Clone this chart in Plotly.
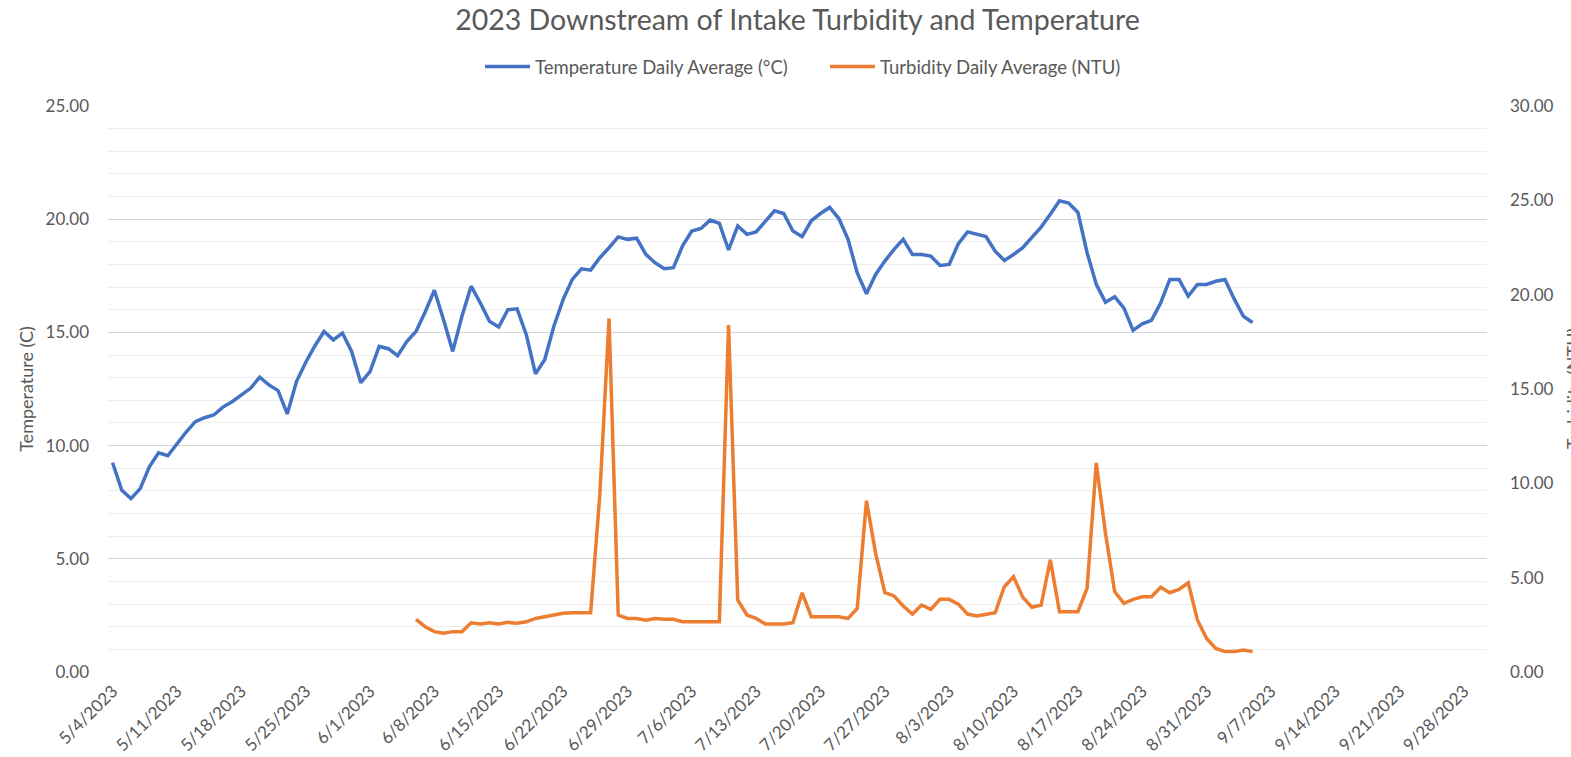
import plotly.graph_objects as go
import pandas as pd

# ---------------- data ----------------
temp_start = "2023-05-04"
temperature = [
    9.24, 8.03, 7.66, 8.10, 9.06, 9.68, 9.55, 10.10, 10.60, 11.06,
    11.23, 11.35, 11.70, 11.94, 12.24, 12.53, 13.02, 12.68, 12.43, 11.40,
    12.83, 13.67, 14.40, 15.04, 14.67, 14.97, 14.16, 12.78, 13.27, 14.38,
    14.28, 13.97, 14.60, 15.04, 15.90, 16.86, 15.56, 14.16, 15.71, 17.04,
    16.30, 15.49, 15.24, 16.00, 16.04, 14.90, 13.17, 13.79, 15.27, 16.45,
    17.34, 17.81, 17.75, 18.30, 18.74, 19.22, 19.11, 19.16, 18.45, 18.08,
    17.81, 17.86, 18.82, 19.48, 19.59, 19.96, 19.82, 18.64, 19.70, 19.33,
    19.44, 19.93, 20.37, 20.25, 19.48, 19.23, 19.93, 20.25, 20.52, 20.03,
    19.11, 17.63, 16.71, 17.56, 18.15, 18.67, 19.11, 18.44, 18.44, 18.37,
    17.96, 18.00, 18.92, 19.44, 19.33, 19.23, 18.59, 18.18, 18.44, 18.74,
    19.20, 19.65, 20.22, 20.81, 20.71, 20.30, 18.52, 17.12, 16.33, 16.57,
    16.08, 15.09, 15.38, 15.53, 16.30, 17.34, 17.34, 16.60, 17.12, 17.12,
    17.26, 17.34, 16.48, 15.71, 15.44,
]

turb_start = "2023-06-06"
turbidity = [
    2.79, 2.40, 2.14, 2.05, 2.14, 2.14, 2.61, 2.54, 2.61, 2.54,
    2.63, 2.58, 2.66, 2.84, 2.93, 3.02, 3.11, 3.14, 3.14, 3.14,
    9.40, 18.74, 3.02, 2.84, 2.84, 2.75, 2.84, 2.79, 2.79, 2.66,
    2.66, 2.66, 2.66, 2.66, 18.39, 3.82, 3.02, 2.84, 2.54, 2.54,
    2.54, 2.61, 4.20, 2.93, 2.93, 2.93, 2.93, 2.84, 3.37, 9.08,
    6.29, 4.20, 4.03, 3.50, 3.07, 3.55, 3.32, 3.85, 3.85, 3.60,
    3.07, 2.97, 3.07, 3.14, 4.52, 5.05, 3.96, 3.43, 3.55, 5.94,
    3.20, 3.20, 3.20, 4.43, 11.08, 7.35, 4.26, 3.64, 3.85, 3.99,
    3.99, 4.49, 4.20, 4.38, 4.73, 2.76, 1.78, 1.25, 1.08, 1.08,
    1.17, 1.08,
]

temp_name = "Temperature Daily Average (°C)"
turb_name = "Turbidity Daily Average (NTU)"
title_text = "2023 Downstream of Intake Turbidity and Temperature"
left_title = "Temperature (C)"
right_title = "Turbidity (NTU)"

temp_dates = pd.date_range(temp_start, periods=len(temperature), freq="D")
turb_dates = pd.date_range(turb_start, periods=len(turbidity), freq="D")

# ---------------- figure ----------------
FONT = "Lato"
GREY = "#595959"

fig = go.Figure()
fig.add_trace(go.Scatter(
    x=temp_dates, y=temperature, name=temp_name, mode="lines",
    line=dict(color="#4472C4", width=3.5), yaxis="y", legend="legend",
))
fig.add_trace(go.Scatter(
    x=turb_dates, y=turbidity, name=turb_name, mode="lines",
    line=dict(color="#ED7D31", width=3.5), yaxis="y2", legend="legend2",
))

W, H = 1571, 757
L, R, T, B = 108, 84, 106, 85

legend_style = dict(orientation="h", xref="container", yref="container",
                    xanchor="left", yanchor="middle", y=1 - 67 / H,
                    font=dict(family=FONT, size=18.5, color=GREY),
                    itemwidth=45, bgcolor="rgba(0,0,0,0)")

fig.update_layout(
    width=W, height=H,
    margin=dict(l=L, r=R, t=T, b=B, autoexpand=False),
    paper_bgcolor="white", plot_bgcolor="white",
    font=dict(family=FONT, color=GREY, size=17),
    title=dict(text=title_text, x=0.5, xref="paper", xanchor="center",
               y=1 - 20 / H, yref="container", yanchor="middle",
               font=dict(family=FONT, size=28.5, color=GREY)),
    showlegend=True,
    legend=dict(legend_style, x=(485 - 5) / W),
    legend2=dict(legend_style, x=(830 - 5) / W),
    xaxis=dict(
        type="date",
        range=["2023-05-03 12:00", "2023-09-30 12:00"],
        tick0="2023-05-04", dtick=7 * 24 * 3600 * 1000,
        tickformat="%-m/%-d/%Y", tickangle=-45,
        showgrid=False, zeroline=False, showline=False, ticks="",
        automargin=False, ticklabelstandoff=5,
        tickfont=dict(family=FONT, size=17, color=GREY),
    ),
    yaxis=dict(
        range=[0, 25], dtick=5, tick0=0, tickformat=".2f",
        showgrid=True, gridcolor="#d4d4d4", gridwidth=1.3,
        minor=dict(dtick=1, showgrid=True, gridcolor="#ededed", gridwidth=1),
        zeroline=False, showline=False, ticks="",
        ticklabelstandoff=18, automargin=False,
        tickfont=dict(family=FONT, size=17, color=GREY),
        title=dict(text=left_title, font=dict(family=FONT, size=18, color=GREY),
                   standoff=7),
    ),
    yaxis2=dict(
        range=[0, 30], dtick=5, tick0=0, tickformat=".2f",
        overlaying="y", side="right",
        showgrid=False, zeroline=False, showline=False, ticks="",
        ticklabelstandoff=22, automargin=False,
        tickfont=dict(family=FONT, size=17, color=GREY),
    ),
)

# right axis title, partly cut by the page edge like the reference
fig.add_annotation(
    text=right_title, xref="paper", yref="paper",
    x=1 + (1560 - (W - R)) / (W - L - R), y=0.5,
    xanchor="left", yanchor="middle", textangle=-90, showarrow=False,
    font=dict(family=FONT, size=18, color=GREY),
)

fig.write_html("out.html", config={"displayModeBar": False},
               post_script="document.body.style.margin='0px';")
